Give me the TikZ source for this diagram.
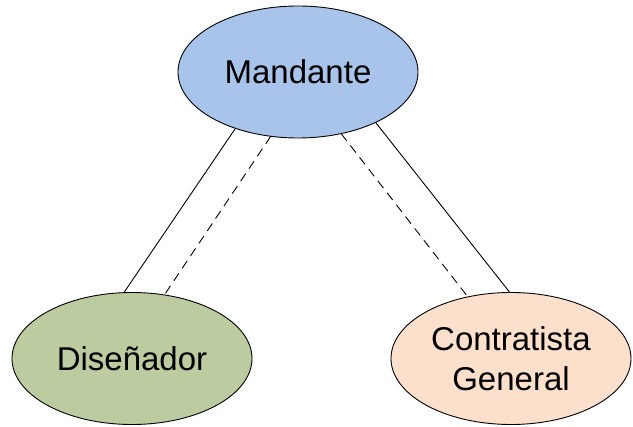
\documentclass[tikz,border=0pt]{standalone}
\usepackage{fontspec}
\setmainfont{Liberation Sans}
\usetikzlibrary{shapes.geometric}
\definecolor{mandblue}{RGB}{169,196,235}
\definecolor{disgreen}{RGB}{188,204,160}
\definecolor{conpeach}{RGB}{252,224,204}
\tikzset{
  party/.style={ellipse, draw=black, line width=0.9pt, minimum width=240pt,
    minimum height=132pt, inner sep=0pt, outer sep=0pt, align=center,
    font=\fontsize{33}{40}\selectfont},
  link/.style={line width=0.9pt},
  dlink/.style={line width=0.9pt, dash pattern=on 9pt off 6pt}
}
\begin{document}
\begin{tikzpicture}[x=1pt,y=-1pt]
\useasboundingbox (0,0) rectangle (633,427);
\node[party, fill=mandblue] (m) at (298,72) {Mandante};
\node[party, fill=disgreen] (d) at (132,358.5) {Diseñador};
\node[party, fill=conpeach] (c) at (511,358.5) {Contratista\\General};
\draw[link] (m.222.6) -- (d.97.8);
\draw[dlink] (m.247) -- (d.63.6);
\draw[dlink] (m.305) -- (c.125);
\draw[link] (m.327.5) -- (c.91);
\end{tikzpicture}
\end{document}
